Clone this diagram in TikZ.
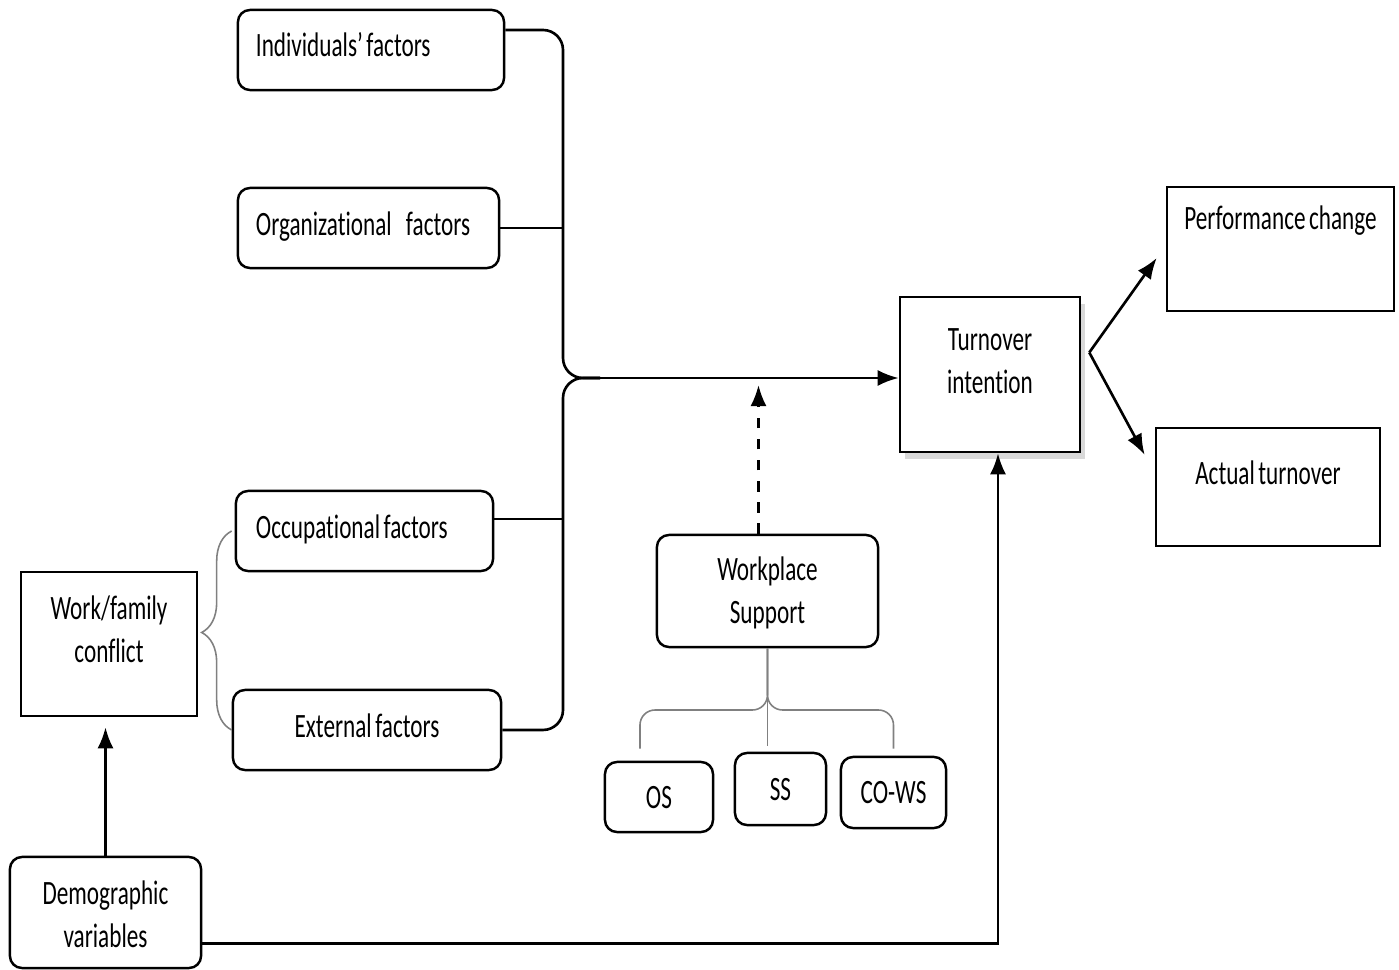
\documentclass[tikz,border=0pt]{standalone}
\usepackage{fontspec}
\setmainfont{Carlito}[FakeStretch=0.68, WordSpace=0.68, Ligatures=NoCommon]
\usetikzlibrary{arrows.meta,shadows,decorations.pathreplacing}

\newcommand{\twolines}[2]{\begin{tabular}[b]{@{}c@{}}#1\\#2\end{tabular}}

\tikzset{
  box/.style={draw, line width=0.7pt, inner xsep=0pt, inner ysep=0pt, fill=white,
    font=\fontsize{9.7}{12}\selectfont},
  rbox/.style={box, rounded corners=0.12cm},
  lbox/.style={rbox, align=flush left, inner xsep=0.18cm, text height=0.47cm, text depth=0.33cm},
  wire/.style={line width=0.75pt},
  greyline/.style={draw=gray, line width=0.45pt},
}

\begin{document}
\begin{tikzpicture}[x=0.01cm, y=-0.01cm, >={Latex[length=0.21cm,width=0.16cm]}]
  \useasboundingbox (0,0) rectangle (1399,970);

  % factors
  \node[lbox, text width=2.30cm] (ind) at (371,50) {Individuals' factors};
  \node[lbox, text width=2.25cm] (org) at (368.5,228) {Organizational\ \ \ \ factors};
  \node[lbox, text width=2.17cm, inner xsep=0.20cm] (occ) at (364.5,531) {Occupational factors};
  \node[rbox, minimum width=2.68cm, text height=0.47cm, text depth=0.33cm] (ext) at (367,730) {External factors};

  % left side
  \node[box, minimum width=1.76cm, text height=0.90cm, text depth=0.54cm] (wfc) at (109,644) {\twolines{Work/family}{conflict}};
  \node[rbox, minimum width=1.91cm, text height=0.90cm, text depth=0.21cm] (demo) at (105.5,912.5) {\twolines{Demographic}{variables}};

  % support
  \node[rbox, minimum width=2.21cm, text height=0.88cm, text depth=0.24cm] (ws) at (767.5,591) {\twolines{Workplace}{Support}};
  \node[rbox, minimum width=1.08cm, text height=0.46cm, text depth=0.24cm] (os) at (659,797) {OS};
  \node[rbox, minimum width=0.91cm, text height=0.47cm, text depth=0.25cm] (ss) at (780.5,789) {SS};
  \node[rbox, minimum width=1.05cm, text height=0.46cm, text depth=0.25cm] (cows) at (893.5,792.5) {CO-WS};

  % outcomes
  \node[box, minimum width=1.80cm, text height=0.96cm, text depth=0.59cm,
    drop shadow={shadow xshift=0.05cm, shadow yshift=-0.07cm, opacity=0.3}] (ti) at (990,374.5) {\twolines{Turnover}{intention}};
  \node[box, minimum width=2.27cm, text height=0.43cm, text depth=0.81cm] (perf) at (1280.5,249) {Performance change};
  \node[box, minimum width=2.24cm, text height=0.57cm, text depth=0.61cm] (act) at (1268,487) {Actual turnover};

  % big bracket into turnover intention
  \coordinate (spine) at (563,378);
  \coordinate (tip) at (600,378);
  \draw[wire, rounded corners=0.2cm] ([yshift=0.2cm]ind.east) -| (spine) -- (tip);
  \draw[wire, rounded corners=0.2cm] (ext.east) -| (spine) -- (tip);
  \draw[wire] (org.east) -- (org.east -| spine);
  \draw[wire] ([yshift=0.12cm]occ.east) -- ([yshift=0.12cm]occ.east -| spine);
  \draw[wire, ->] (tip) -- (tip -| ti.west);

  % moderator
  \draw[wire, dashed, ->] ([xshift=-0.09cm]ws.north) -- ([xshift=-0.09cm,yshift=-0.07cm]ws.north |- tip);

  % outcomes
  \coordinate (fork) at ([xshift=0.08cm,yshift=0.22cm]ti.east);
  \draw[wire, ->] (fork) -- ([xshift=-0.09cm,yshift=-0.09cm]perf.west);
  \draw[wire, ->] (fork) -- ([xshift=-0.1cm,yshift=0.32cm]act.west);

  % demographics
  \draw[wire, ->] ([yshift=-0.31cm]demo.east) -| ([xshift=0.08cm]ti.south);
  \draw[wire, ->, shorten >=0.1cm] (demo.north) -- (demo.north |- wfc.south);

  % grey braces
  \draw[greyline, decorate, decoration={brace, amplitude=0.3cm, aspect=0.49}]
    (ext.west) -- (ext.west |- occ.west);
  \coordinate (hub) at (ws.south |- 0,710);
  \draw[greyline, rounded corners=0.15cm] ([xshift=-0.19cm,yshift=0.12cm]os.north) |- (hub) -- (ws.south);
  \draw[greyline, rounded corners=0.15cm] ([yshift=0.07cm]cows.north) |- (hub) -- (ws.south);
  \draw[greyline, shorten >=0.06cm] (ws.south) -- (ws.south |- ss.north);
\end{tikzpicture}
\end{document}
